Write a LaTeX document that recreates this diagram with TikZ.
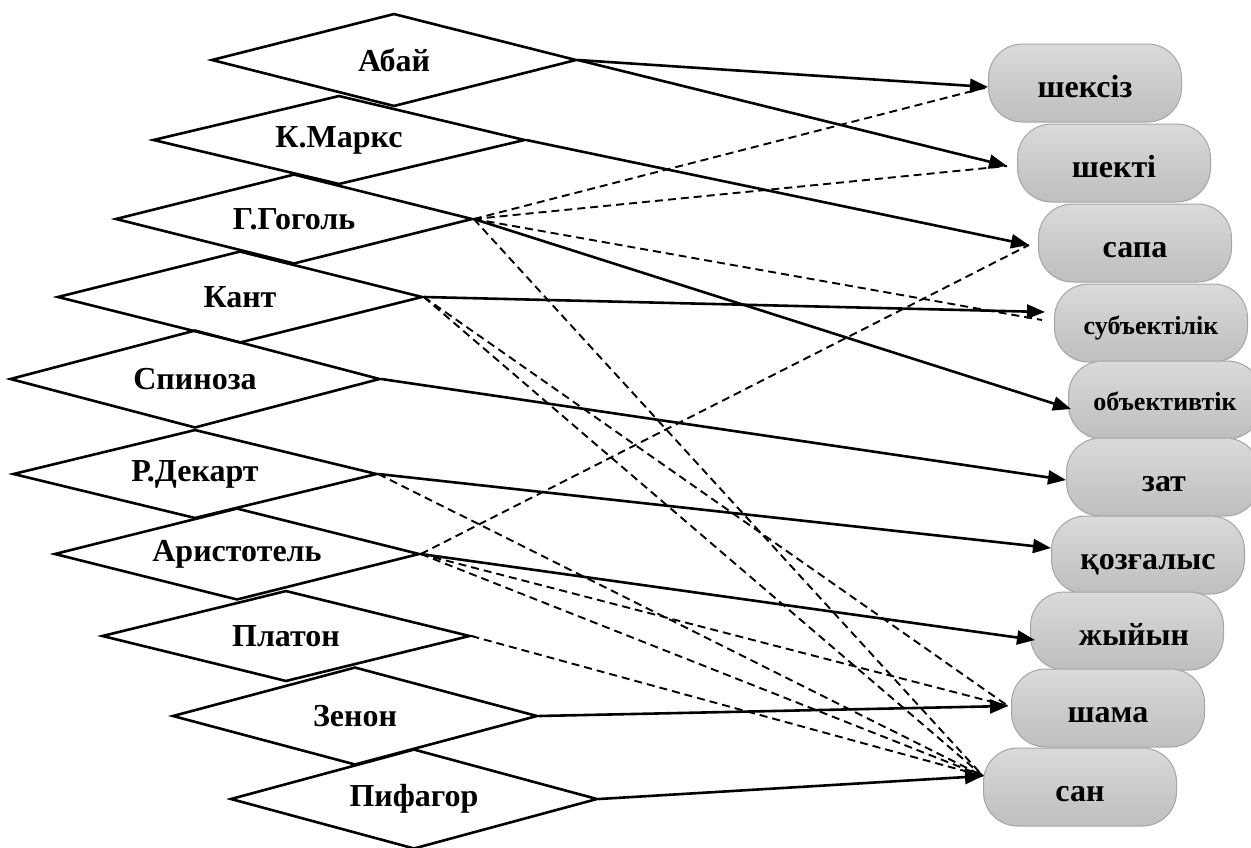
\documentclass[tikz,border=0pt]{standalone}
\usepackage{fontspec}
\setmainfont{Liberation Serif}
\usetikzlibrary{arrows.meta, shapes.geometric}
\definecolor{termedge}{RGB}{165,165,165}
\definecolor{termtop}{RGB}{218,218,218}
\definecolor{termbot}{RGB}{190,190,190}

\begin{document}
\begin{tikzpicture}[x=1pt, y=-1pt, >={Triangle[length=18pt,width=14pt]},
   phil/.style={draw=black, line width=2.6pt, shape=diamond, aspect=4, inner sep=0pt,
               minimum width=365pt, minimum height=92pt, font=\fontsize{32}{32}\selectfont\bfseries},
   term/.style={draw=termedge, line width=1pt, rounded corners=34pt,
               top color=termtop, bottom color=termbot, inner sep=0pt,
               text height=28pt, text depth=0pt,
               minimum width=193pt, minimum height=78pt, font=\fontsize{32}{32}\selectfont\bfseries},
   link/.style={->, line width=2.6pt},
   hint/.style={line width=1.9pt, dash pattern=on 8pt off 5pt}]
  \useasboundingbox (0,0) rectangle (1251,847);
  % thinkers
  \node[phil, minimum height=93pt] (abai) at (394,60) {Абай};
  \node[phil, minimum width=372pt, minimum height=89pt] (marx) at (339,140) {К.Маркс};
  \node[phil, minimum width=357pt, minimum height=90pt] (gogol) at (294,219) {Г.Гоголь};
  \node[phil] (kant) at (240,297) {Кант};
  \node[phil, minimum width=370pt, minimum height=98pt] (spinoza) at (195,379) {Спиноза};
  \node[phil, minimum width=364pt, minimum height=89pt] (dekart) at (195,474) {Р.Декарт};
  \node[phil] (aristotel) at (237,554) {Аристотель};
  \node[phil, minimum width=368pt, minimum height=91pt] (platon) at (286,636) {Платон};
  \node[phil, minimum height=98pt] (zenon) at (355,716) {Зенон};
  \node[phil, minimum width=367pt, minimum height=100pt] (pifagor) at (414,799) {Пифагор};
  % categories
  \node[term] (sheksiz) at (1085,83) {шексіз};
  \node[term] (shekti) at (1114,163) {шекті};
  \node[term] (sapa) at (1135,243) {сапа};
  \node[term, font=\fontsize{26}{26}\selectfont\bfseries, text height=22pt] (subj) at (1151,323) {субъектілік};
  \node[term, font=\fontsize{26}{26}\selectfont\bfseries, text height=20pt] (obj) at (1165,400) {объективтік};
  \node[term] (zat) at (1163,477) {\hspace*{2pt}зат};
  \node[term] (qoz) at (1148,555) {қозғалыс};
  \node[term] (zhyiyn) at (1127,631) {\hspace*{14pt}жыйын};
  \node[term] (shama) at (1108,708) {шама};
  \node[term] (san) at (1080,787) {сан};
  % solid links
  \draw[link] (abai.east) -- ([yshift=-4pt]sheksiz.west);
  \draw[link] (abai.east) -- ([xshift=-10pt,yshift=-3pt]shekti.west);
  \draw[link] (marx.east) -- ([xshift=-9pt,yshift=-2pt]sapa.west);
  \draw[link] (gogol.east) -- ([xshift=3pt,yshift=-9pt]obj.west);
  \draw[link] (kant.east) -- ([xshift=-9pt,yshift=11pt]subj.west);
  \draw[link] (spinoza.east) -- ([yshift=-3pt]zat.west);
  \draw[link] (dekart.east) -- ([yshift=7pt]qoz.west);
  \draw[link] (aristotel.east) -- ([xshift=5pt,yshift=-9pt]zhyiyn.west);
  \draw[link] (zenon.east) -- ([xshift=-3pt,yshift=2pt]shama.west);
  \draw[link] (pifagor.east) -- ([yshift=11pt]san.west);
  % dashed links
  \draw[hint] (gogol.east) -- ([yshift=-4pt]sheksiz.west);
  \draw[hint] (gogol.east) -- ([xshift=-10pt,yshift=-3pt]shekti.west);
  \draw[hint] (gogol.east) -- ([xshift=-12pt,yshift=3pt]subj.west);
  \draw[hint] (gogol.east) -- ([yshift=11pt]san.west);
  \draw[hint] (kant.east) -- ([xshift=-3pt,yshift=2pt]shama.west);
  \draw[hint] (kant.east) -- ([yshift=11pt]san.west);
  \draw[hint] (dekart.east) -- ([yshift=11pt]san.west);
  \draw[hint] (aristotel.east) -- ([xshift=-9pt,yshift=-2pt]sapa.west);
  \draw[hint] (aristotel.east) -- ([xshift=-3pt,yshift=2pt]shama.west);
  \draw[hint] (aristotel.east) -- ([yshift=11pt]san.west);
  \draw[hint] (platon.east) -- ([yshift=11pt]san.west);
\end{tikzpicture}
\end{document}
